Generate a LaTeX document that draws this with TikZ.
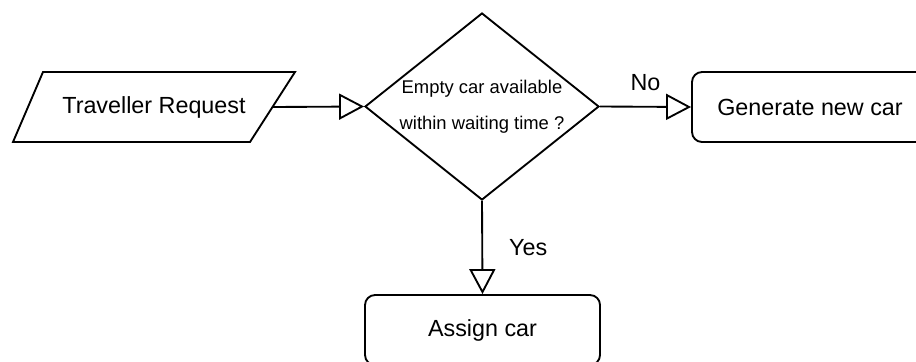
\documentclass[tikz,border=0pt]{standalone}
\usepackage{fontspec}
\setmainfont{Liberation Sans}
\usetikzlibrary{positioning,arrows.meta,shapes.geometric}
\newcommand{\pxu}{0.75pt}

\begin{document}
\begin{tikzpicture}[x=\pxu,y=-\pxu,line width=1.4pt,
  font=\fontsize{17.5}{21}\selectfont,
  decision/.style={draw,diamond,minimum width=234*\pxu,minimum height=187*\pxu,inner sep=0pt},
  qtext/.style={align=center,inner sep=0pt,font=\fontsize{13.8}{27}\selectfont},
  procbox/.style={draw,rounded corners=7.5pt,minimum width=236*\pxu,minimum height=70*\pxu},
  flow/.style={-{Triangle[open,length=18.75pt,width=19.5pt]}},
  flowlbl/.style={inner sep=0pt,midway}]
\useasboundingbox (0,0) rectangle (916,361);
% ===== input (parallelogram) =====
\node (req) at (154,107) {Traveller Request};
\draw[line join=miter] (req.center) +(-111,-35) -- +(141,-35) -- +(96,35) -- +(-141,35) -- cycle;
\coordinate (reqE) at ([xshift=118.5*\pxu]req.center);
% ===== decision and processes =====
\node[decision] (q) at (482,106.5) {};
\node[qtext] (qlbl) at (q) {Empty car available\\within waiting time ?};
\node[procbox] (gen) at (810,107) {Generate new car};
\node[procbox,minimum width=235*\pxu] (assign) at (482.5,330) {Assign car};
% ===== connectors =====
\draw[flow] (reqE) -- (q.west);
\draw[flow] (q.east) -- (gen.west) node[flowlbl,above=11.25pt]{No};
\draw[flow] (q.south) -- (assign.north) node[flowlbl,right=19.5pt]{Yes};
\end{tikzpicture}
\end{document}
